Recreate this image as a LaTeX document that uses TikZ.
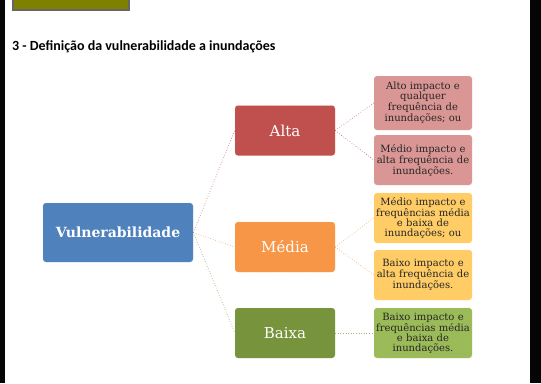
\documentclass[tikz,border=0pt]{standalone}
\usepackage{fontspec}
\setmainfont{DejaVu Serif}
\newfontfamily\titlefont{Carlito}

\definecolor{vulblue}{HTML}{4F81BD}
\definecolor{altared}{HTML}{C0504D}
\definecolor{mediaorange}{HTML}{F79646}
\definecolor{baixagreen}{HTML}{77933C}
\definecolor{altapink}{HTML}{D99694}
\definecolor{mediayellow}{HTML}{FFCC66}
\definecolor{baixalight}{HTML}{9BBB59}
\definecolor{olivebar}{HTML}{7F7F00}
\definecolor{edgebar}{HTML}{050505}

\tikzset{
  mainbox/.style={rounded corners=3pt, draw=#1!70!white, densely dotted, fill=#1,
    text=white, minimum width=100pt, minimum height=50pt, align=center, font=\fontsize{15}{17}\selectfont},
  leafbox/.style={rounded corners=3pt, draw=#1!70!white, densely dotted, fill=#1,
    text=black!85, minimum width=98pt, minimum height=50pt, text width=94pt, inner xsep=2pt, align=center,
    font=\fontsize{10}{9.8}\selectfont},
  link/.style={dotted, line width=0.6pt, #1}
}

\begin{document}
\begin{tikzpicture}[x=1pt,y=-1pt]
  \useasboundingbox (0,0) rectangle (541,383);
  \draw[edgebar, line width=5pt] (2.5,0) -- (2.5,383);
  \draw[edgebar, line width=11pt] (535.5,0) -- (535.5,383);
  \draw[fill=olivebar, draw=black!60, line width=1.5pt] (13,-5) rectangle (129,10);
  \node[anchor=base west, inner sep=0pt, font=\titlefont\bfseries\fontsize{14}{16}\selectfont] (title) at (12,50) {3 - Definição da vulnerabilidade a inundações};

  \node[mainbox=vulblue, minimum width=150pt, minimum height=59pt, font=\bfseries\fontsize{14}{16}\selectfont] (vul) at (118,232.5) {Vulnerabilidade};
  \node[mainbox=altared] (alta) at (285,130.5) {Alta};
  \node[mainbox=mediaorange] (media) at (285,247) {Média};
  \node[mainbox=baixagreen] (baixa) at (285,333) {Baixa};

  \node[leafbox=altapink, minimum height=54pt] (alta1) at (423,103) {Alto impacto e\\qualquer\\frequência de\\inundações; ou};
  \node[leafbox=altapink] (alta2) at (423,160) {Médio impacto e\\alta frequência de\\inundações.};
  \node[leafbox=mediayellow] (media1) at (423,218) {Médio impacto e\\frequências média\\e baixa de\\inundações; ou};
  \node[leafbox=mediayellow] (media2) at (423,275) {Baixo impacto e\\alta frequência de\\inundações.};
  \node[leafbox=baixalight] (baixa1) at (423,333) {Baixo impacto e\\frequências média\\e baixa de\\inundações.};

  \draw[link=altared] (vul.east) -- (alta.west);
  \draw[link=mediaorange] (vul.east) -- (media.west);
  \draw[link=baixagreen] (vul.east) -- (baixa.west);
  \draw[link=altared] (alta.east) -- (alta1.west);
  \draw[link=altared] (alta.east) -- (alta2.west);
  \draw[link=mediaorange] (media.east) -- (media1.west);
  \draw[link=mediaorange] (media.east) -- (media2.west);
  \draw[link=baixagreen!70] (baixa.east) -- (baixa1.west);
\end{tikzpicture}
\end{document}
